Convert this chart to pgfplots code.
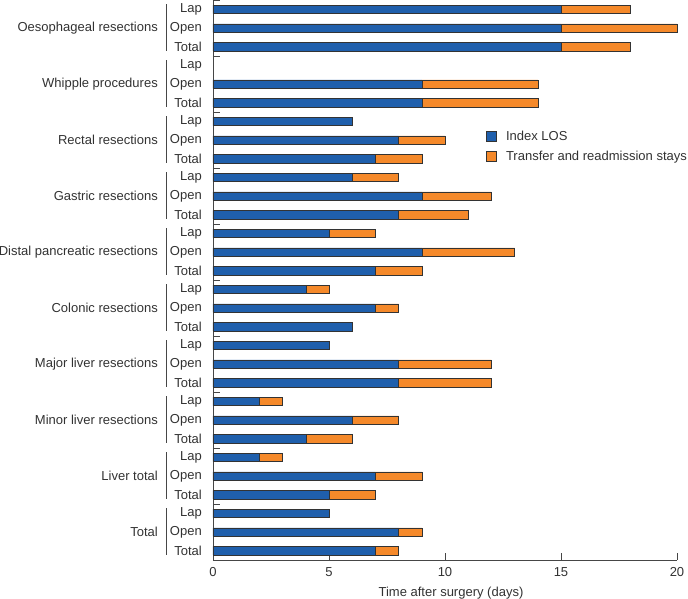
\documentclass[border=0pt]{standalone}
\usepackage{pgfplots}
\pgfplotsset{compat=1.18}
\usepackage{fontspec}
\setmainfont{Liberation Sans}
\definecolor{losblue}{RGB}{31,95,172}
\definecolor{trorange}{RGB}{245,137,42}
\definecolor{txt}{RGB}{50,50,50}
\definecolor{axc}{RGB}{70,70,70}
\begin{document}
\begin{tikzpicture}[font=\fontsize{13bp}{15bp}\selectfont]
\path[use as bounding box] (-213bp,-39bp) rectangle (475bp,560bp);
\begin{axis}[
  at={(0,0)}, anchor=south west,
  scale only axis, width=464bp, height=560bp,
  xbar stacked, bar width=8.5bp,
  y dir=reverse,
  xmin=0, xmax=20, ymin=-0.5, ymax=29.5,
  axis lines*=left,
  axis line style={axc, line width=0.9pt},
  clip=false,
  xtick={0,5,10,15,20},
  tick align=inside,
  major tick length=7bp,
  tick style={axc, line width=0.8pt},
  xticklabel style={text=txt, yshift=-4bp},
  /pgf/number format/assume math mode=true,
  ytick={0,...,29},
  yticklabels={Lap,Open,Total,Lap,Open,Total,Lap,Open,Total,Lap,Open,Total,Lap,Open,Total,Lap,Open,Total,Lap,Open,Total,Lap,Open,Total,Lap,Open,Total,Lap,Open,Total},
  ytick style={draw=none},
  yticklabel style={text=txt, inner sep=0pt, xshift=-11bp},
  extra y ticks={-0.5,2.5,5.5,8.5,11.5,14.5,17.5,20.5,23.5,26.5},
  extra y tick labels={},
  extra y tick style={ytick style={draw=axc, line width=0.8pt}, major tick length=7bp},
  xlabel={Time after surgery (days)},
  xlabel style={text=txt, xshift=6bp, yshift=-4bp},
  legend style={draw=none, fill=none, at={(rel axis cs:0.588,0.770)}, anchor=north west,
    text=txt, row sep=5bp, inner sep=0pt, cells={anchor=west}},
  legend image code/.code={\draw[#1, draw=black!80, line width=0.5pt] (0bp,-5bp) rectangle (10bp,5bp);},
  legend cell align=left,
]
\addplot[fill=losblue, draw=black!80, line width=0.5pt] coordinates {
(15,0) (15,1) (15,2)
(9,4) (9,5)
(6,6) (8,7) (7,8)
(6,9) (9,10) (8,11)
(5,12) (9,13) (7,14)
(4,15) (7,16) (6,17)
(5,18) (8,19) (8,20)
(2,21) (6,22) (4,23)
(2,24) (7,25) (5,26)
(5,27) (8,28) (7,29)
};
\addlegendentry{\hspace{7.5bp}Index LOS}
\addplot[fill=trorange, draw=black!80, line width=0.5pt] coordinates {
(3,0) (5,1) (3,2)
(5,4) (5,5)
(0,6) (2,7) (2,8)
(2,9) (3,10) (3,11)
(2,12) (4,13) (2,14)
(1,15) (1,16) (0,17)
(0,18) (4,19) (4,20)
(1,21) (2,22) (2,23)
(1,24) (2,25) (2,26)
(0,27) (1,28) (1,29)
};
\addlegendentry{\hspace{7.5bp}Transfer and readmission stays}
% group labels and brackets
\foreach \r/\n in {1/Oesophageal resections,4/Whipple procedures,7/Rectal resections,10/Gastric resections,13/Distal pancreatic resections,16/Colonic resections,19/Major liver resections,22/Minor liver resections,25/Liver total,28/Total}{
  \edef\tmp{\noexpand\node[anchor=east, text=txt, inner sep=0pt] at ([xshift=-55bp]axis cs:0,\r) {\n};
    \noexpand\draw[axc, line width=0.9pt] ([xshift=-47bp]axis cs:0,\r-1.28) -- ([xshift=-47bp]axis cs:0,\r+1.22);}
  \tmp
}
\end{axis}
\end{tikzpicture}
\end{document}
